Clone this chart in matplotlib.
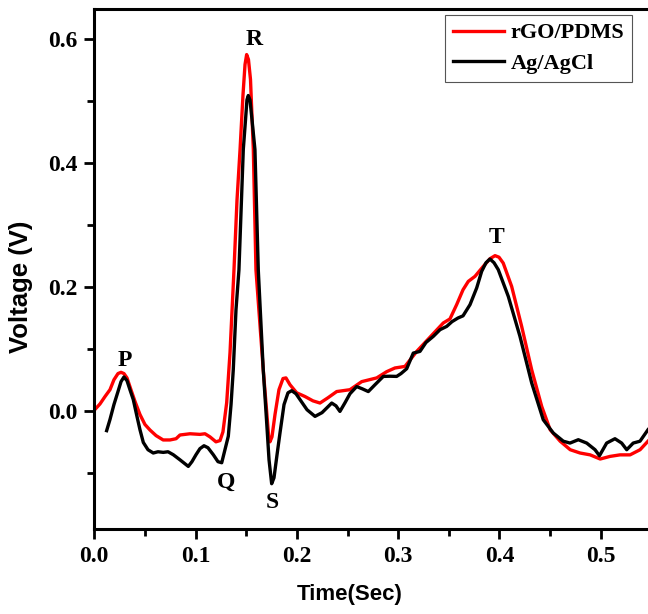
import matplotlib
matplotlib.use("Agg")
import matplotlib.pyplot as plt
from matplotlib.ticker import MultipleLocator

# ---- data ----
t_rgo = [0.000, 0.0056, 0.0106, 0.0155, 0.0194, 0.0234, 0.0264, 0.0293, 0.0323, 0.0362,
         0.0402, 0.0451, 0.050, 0.055, 0.061, 0.068, 0.0747, 0.0807, 0.0846, 0.0945,
         0.1043, 0.1093, 0.1142, 0.1201, 0.1241, 0.127, 0.1307, 0.1340, 0.1379, 0.1409,
         0.1439, 0.1468, 0.1488, 0.1504, 0.1522, 0.1542, 0.157, 0.1596, 0.1668, 0.170,
         0.172, 0.1734, 0.1754, 0.1784, 0.1823, 0.1863, 0.1892, 0.1932, 0.1998, 0.208,
         0.2159, 0.2228, 0.2307, 0.2393, 0.2524, 0.264, 0.2788, 0.2886, 0.2968, 0.3067,
         0.3183, 0.3314, 0.3445, 0.3511, 0.3577, 0.364, 0.3692, 0.3758, 0.384, 0.3906,
         0.3956, 0.3995, 0.4037, 0.412, 0.4219, 0.4318, 0.4417, 0.450, 0.4599, 0.4698,
         0.4795, 0.4895, 0.4994, 0.5091, 0.519, 0.5289, 0.5388, 0.5466]
v_rgo = [0.002, 0.012, 0.024, 0.035, 0.051, 0.061, 0.063, 0.061, 0.054, 0.035,
         0.016, -0.005, -0.021, -0.030, -0.039, -0.046, -0.046, -0.044, -0.038, -0.036,
         -0.037, -0.036, -0.041, -0.049, -0.047, -0.033, 0.014, 0.095, 0.228, 0.341,
         0.422, 0.510, 0.559, 0.575, 0.567, 0.535, 0.422, 0.228, 0.067, 0.003,
         -0.038, -0.049, -0.041, -0.005, 0.035, 0.053, 0.054, 0.043, 0.030, 0.024,
         0.017, 0.0135, 0.022, 0.032, 0.035, 0.048, 0.054, 0.064, 0.070, 0.0725,
         0.0967, 0.1196, 0.1425, 0.149, 0.172, 0.196, 0.2095, 0.2176, 0.2337, 0.246,
         0.251, 0.2485, 0.239, 0.2015, 0.137, 0.067, 0.008, -0.0295, -0.048, -0.0617,
         -0.067, -0.070, -0.0767, -0.0725, -0.070, -0.070, -0.0617, -0.048]

t_ag = [0.0122, 0.0155, 0.0194, 0.0234, 0.0264, 0.0293, 0.0323, 0.0352, 0.0385, 0.0422,
        0.0451, 0.0484, 0.053, 0.0582, 0.0629, 0.0681, 0.0728, 0.078, 0.0846, 0.0928,
        0.0964, 0.1004, 0.1043, 0.1083, 0.1122, 0.1175, 0.1221, 0.1258, 0.129, 0.1323,
        0.135, 0.1372, 0.1399, 0.1428, 0.1471, 0.1493, 0.1507, 0.152, 0.1537, 0.1557,
        0.1586, 0.1619, 0.1668, 0.170, 0.1725, 0.1751, 0.1774, 0.1804, 0.1833, 0.1873,
        0.1912, 0.1949, 0.1991, 0.2031, 0.21, 0.2179, 0.2248, 0.2344, 0.2386, 0.2425,
        0.2475, 0.2524, 0.259, 0.2643, 0.2705, 0.2771, 0.2853, 0.2919, 0.2985, 0.3028,
        0.3084, 0.3149, 0.3215, 0.3274, 0.3347, 0.3413, 0.3479, 0.3531, 0.359, 0.364,
        0.3709, 0.3775, 0.3824, 0.3867, 0.3906, 0.3946, 0.3988, 0.4087, 0.4202, 0.4318,
        0.4432, 0.4531, 0.463, 0.4696, 0.4778, 0.4861, 0.4943, 0.4987, 0.5058, 0.514,
        0.5206, 0.5256, 0.532, 0.5387, 0.5466]
v_ag = [-0.031, -0.013, 0.011, 0.032, 0.048, 0.0555, 0.0495, 0.035, 0.019, -0.0085,
        -0.0295, -0.050, -0.0617, -0.067, -0.065, -0.066, -0.065, -0.0698, -0.078, -0.0886,
        -0.081, -0.0698, -0.060, -0.0553, -0.0585, -0.0698, -0.081, -0.0827, -0.0617, -0.040,
        0.011, 0.067, 0.164, 0.228, 0.422, 0.470, 0.502, 0.509, 0.502, 0.470,
        0.422, 0.228, 0.067, -0.0134, -0.078, -0.1165, -0.107, -0.0698, -0.035, 0.011,
        0.030, 0.0334, 0.0285, 0.019, 0.0027, -0.008, -0.002, 0.0135, 0.009, 0.000,
        0.014, 0.0285, 0.040, 0.0366, 0.032, 0.043, 0.0564, 0.0567, 0.0564, 0.061,
        0.0688, 0.094, 0.0967, 0.111, 0.121, 0.1317, 0.137, 0.1446, 0.1505, 0.154,
        0.172, 0.199, 0.2256, 0.2396, 0.2456, 0.2396, 0.2284, 0.1853, 0.121, 0.0458,
        -0.0134, -0.0348, -0.048, -0.051, -0.0456, -0.051, -0.0617, -0.0714, -0.051, -0.044,
        -0.051, -0.0617, -0.051, -0.048, -0.0295]

wave_labels = ["P", "Q", "R", "S", "T"]
wave_t = [0.030, 0.130, 0.158, 0.176, 0.397]
wave_v = [0.082, -0.114, 0.600, -0.147, 0.281]

series_names = ["rGO/PDMS", "Ag/AgCl"]
x_ticks = [0.0, 0.1, 0.2, 0.3, 0.4, 0.5]
y_ticks = [0.0, 0.2, 0.4, 0.6]

# ---- figure ----
fig = plt.figure(figsize=(6.48, 6.14), dpi=100)
ax = fig.add_axes([0.1455, 0.1379, 0.8598, 0.8470])

serif = ["Liberation Serif", "DejaVu Serif"]
sans = ["Liberation Sans", "DejaVu Sans"]

ax.plot(t_rgo, v_rgo, color="#ff0000", lw=2.4, label=series_names[0], zorder=2)
ax.plot(t_ag, v_ag, color="#000000", lw=2.4, label=series_names[1], zorder=3)

ax.set_xlim(0, 0.55)
ax.set_ylim(-0.19, 0.648)

ax.set_xticks(x_ticks)
ax.set_yticks(y_ticks)
ax.set_xticklabels([f"{v:.1f}" for v in x_ticks])
ax.set_yticklabels([f"{v:.1f}" for v in y_ticks])
ax.xaxis.set_minor_locator(MultipleLocator(0.05))
ax.yaxis.set_minor_locator(MultipleLocator(0.1))

for lab in ax.get_xticklabels() + ax.get_yticklabels():
    lab.set_fontfamily(serif)
    lab.set_fontweight("bold")
    lab.set_fontsize(17)

ax.tick_params(which="major", direction="out", length=7, width=2, pad=5)
ax.tick_params(which="minor", direction="out", length=5, width=2)
ax.tick_params(axis="x", which="both", top=False)
ax.tick_params(axis="y", which="both", right=False)

for side in ["left", "bottom", "top"]:
    ax.spines[side].set_linewidth(2.2)
ax.spines["right"].set_visible(False)

ax.set_xlabel("Time(Sec)", fontfamily=sans, fontweight="bold", fontsize=16)
ax.set_ylabel("Voltage (V)", fontfamily=sans, fontweight="bold", fontsize=18.5)
ax.xaxis.set_label_coords(0.458, -0.105)
ax.yaxis.set_label_coords(-0.11, 0.466)

for lbl, tx, vy in zip(wave_labels, wave_t, wave_v):
    ax.text(tx, vy, lbl, ha="center", va="center", fontfamily=serif,
            fontweight="bold", fontsize=17)

leg = ax.legend(loc="upper right", bbox_to_anchor=(632 / 648, (614 - 15) / 614),
                bbox_transform=fig.transFigure,
                prop={"family": serif, "weight": "bold", "size": 16},
                frameon=True, fancybox=False, framealpha=1, edgecolor="#555555",
                handlelength=2.3, handletextpad=0.3, labelspacing=0.45,
                borderpad=0.35, borderaxespad=0)
leg.get_frame().set_linewidth(0.8)

fig.savefig("out.png", dpi=100)
